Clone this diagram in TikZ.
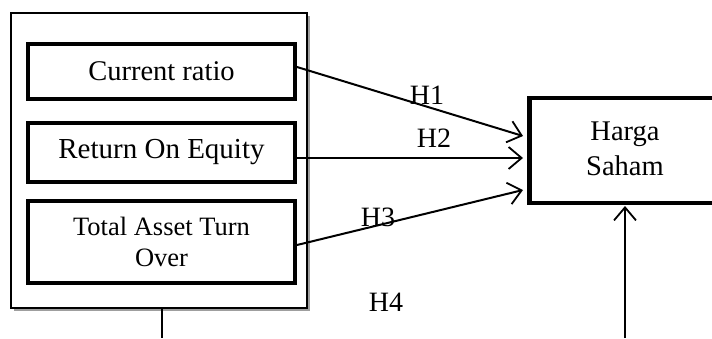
\documentclass[tikz,border=0pt]{standalone}
\usepackage{fontspec}
\setmainfont{Liberation Serif}
\usetikzlibrary{arrows.meta}
\begin{document}
\begin{tikzpicture}[x=1pt,y=-1pt,
  varbox/.style={draw,line width=4.5pt,minimum width=267pt,align=center,inner sep=0pt},
  conn/.style={line width=2pt,-{Straight Barb[length=13pt,width=22pt,line width=1.8pt]}},
  lbl/.style={font=\fontsize{28}{30}\selectfont,inner sep=0pt}]
\useasboundingbox (0,0) rectangle (712,338);
% outer frame with shadow
\fill[gray!75] (14,16) rectangle (310,311);
\node[draw,line width=1.6pt,fill=white,minimum width=296pt,minimum height=295pt,inner sep=0pt] (outer) at (159,160.5) {};
\node[varbox,minimum height=55pt,font=\fontsize{28.5}{30}\selectfont] (cr) at (161.5,71.5) {Current ratio};
\node[varbox,minimum height=59pt,font=\fontsize{29}{30}\selectfont] (roe) at (161.5,152.5) {Return On Equity};
\node[varbox,minimum height=82pt,font=\fontsize{26.5}{31}\selectfont] (tato) at (161.5,242) {Total Asset Turn\\Over};
\begin{scope}
\clip (0,0) rectangle (712,338);
\node[draw,line width=4.5pt,minimum width=200pt,minimum height=105pt,inner sep=0pt,anchor=west] (hs) at (527,150.5) {};
\end{scope}
\node[align=center,font=\fontsize{28.5}{35}\selectfont] (hst) at (625,148.5) {Harga\\Saham};
\coordinate (a1s) at (297,67);
\coordinate (a1e) at (523,136);
\coordinate (a2s) at (297,158);
\coordinate (a2e) at (523,158);
\coordinate (a3s) at (297,245);
\coordinate (a3e) at (523,190);
\coordinate (a4s) at (625,338);
\coordinate (a4e) at (625,206);
\coordinate (b4s) at (162,308);
\coordinate (b4e) at (162,338);
\draw[conn] (a1s) -- (a1e);
\draw[conn] (a2s) -- (a2e);
\draw[conn] (a3s) -- (a3e);
\draw[conn] (a4s) -- (a4e);
\draw[line width=2pt] (outer.south -| b4s) -- (b4e);
\node[lbl] (h1) at (427,95) {H1};
\node[lbl] (h2) at (434,138) {H2};
\node[lbl] (h3) at (378,217) {H3};
\node[lbl] (h4) at (386,302) {H4};
\end{tikzpicture}
\end{document}
